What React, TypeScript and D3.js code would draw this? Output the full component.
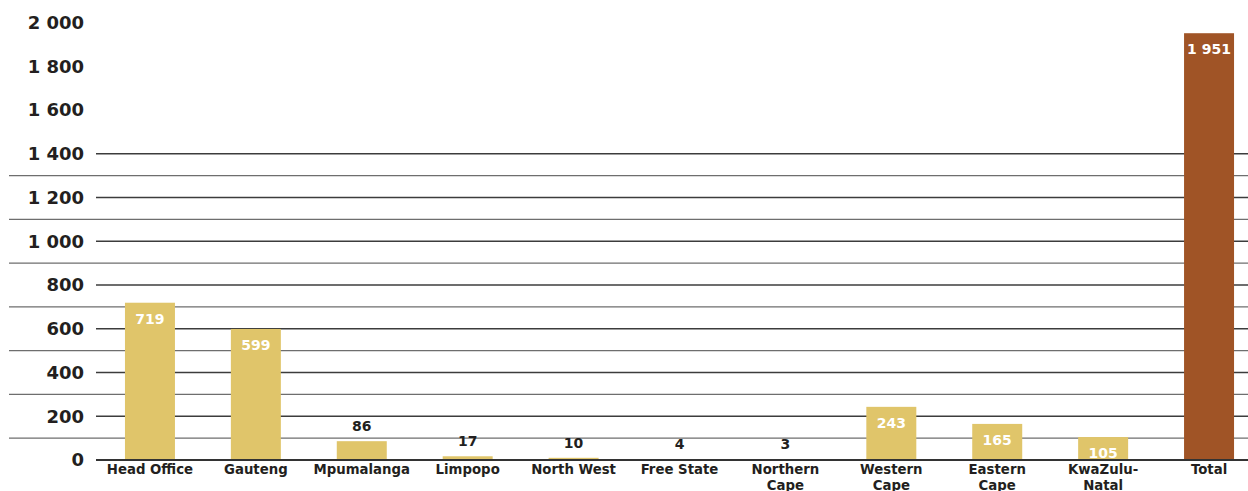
import { useEffect, useRef } from 'react'
import * as d3 from 'd3'

// Staff per office
const categories = [
  'Head Office',
  'Gauteng',
  'Mpumalanga',
  'Limpopo',
  'North West',
  'Free State',
  'Northern Cape',
  'Western Cape',
  'Eastern Cape',
  'KwaZulu-Natal',
  'Total',
]
const categoryLines = [
  ['Head Office'],
  ['Gauteng'],
  ['Mpumalanga'],
  ['Limpopo'],
  ['North West'],
  ['Free State'],
  ['Northern', 'Cape'],
  ['Western', 'Cape'],
  ['Eastern', 'Cape'],
  ['KwaZulu-', 'Natal'],
  ['Total'],
]
const values = [719, 599, 86, 17, 10, 4, 3, 243, 165, 105, 1951]
const yTicks = [0, 200, 400, 600, 800, 1000, 1200, 1400, 1600, 1800, 2000]
const majorGrid = [200, 400, 600, 800, 1000, 1200, 1400]
const minorGrid = [100, 300, 500, 700, 900, 1100, 1300]

const W = 1248
const H = 491
const FONT = "'DejaVu Sans', Verdana, sans-serif"
const GOLD = '#e0c56a'
const BROWN = '#a05426'
const TEXT = '#231f20'

const App = () => {
  const svgRef = useRef<SVGSVGElement | null>(null)

  useEffect(() => {
    if (!svgRef.current) return
    const svg = d3.select(svgRef.current)
    svg.selectAll('*').remove()

    const x = d3.scaleBand<string>().domain(categories).range([97, 1262]).paddingInner(0.528).paddingOuter(0.264)
    const y = d3.scaleLinear().domain([0, 2000]).range([460, 22.5])

    const fmt = (v: number) => d3.format(',')(v).replace(/,/g, ' ')

    // minor grid lines reach to the left edge
    svg
      .append('g')
      .selectAll('line')
      .data(minorGrid)
      .enter()
      .append('line')
      .attr('x1', 9)
      .attr('x2', W)
      .attr('y1', (d) => y(d))
      .attr('y2', (d) => y(d))
      .attr('stroke', '#6e6e6e')
      .attr('stroke-width', 1.3)

    // major grid lines start after the tick labels
    svg
      .append('g')
      .selectAll('line')
      .data(majorGrid)
      .enter()
      .append('line')
      .attr('x1', 96)
      .attr('x2', W)
      .attr('y1', (d) => y(d))
      .attr('y2', (d) => y(d))
      .attr('stroke', '#3c3c3c')
      .attr('stroke-width', 1.3)

    // y tick labels
    svg
      .append('g')
      .selectAll('text')
      .data(yTicks)
      .enter()
      .append('text')
      .attr('x', 84)
      .attr('y', (d) => y(d))
      .attr('dy', '0.36em')
      .attr('text-anchor', 'end')
      .style('font-family', FONT)
      .style('font-size', '18px')
      .style('font-weight', 'bold')
      .style('fill', TEXT)
      .text((d) => fmt(d))

    // bars
    svg
      .append('g')
      .selectAll('rect')
      .data(values)
      .enter()
      .append('rect')
      .attr('x', (d, i) => x(categories[i]) as number)
      .attr('y', (d) => y(d))
      .attr('width', x.bandwidth())
      .attr('height', (d) => y(0) - y(d))
      .attr('fill', (d, i) => (i === categories.length - 1 ? BROWN : GOLD))

    // baseline
    svg
      .append('line')
      .attr('x1', 96)
      .attr('x2', W)
      .attr('y1', y(0))
      .attr('y2', y(0))
      .attr('stroke', '#333')
      .attr('stroke-width', 2)

    // value labels
    svg
      .append('g')
      .selectAll('text')
      .data(values)
      .enter()
      .append('text')
      .attr('x', (d, i) => (x(categories[i]) as number) + x.bandwidth() / 2)
      .attr('y', (d) => (d >= 100 ? y(d) + 16 : y(d) - 15))
      .attr('dy', '0.36em')
      .attr('text-anchor', 'middle')
      .style('font-family', FONT)
      .style('font-size', '14px')
      .style('font-weight', 'bold')
      .style('fill', (d) => (d >= 100 ? '#ffffff' : TEXT))
      .text((d) => fmt(d))

    // category labels
    const cat = svg
      .append('g')
      .selectAll('text')
      .data(categoryLines)
      .enter()
      .append('text')
      .attr('x', (d, i) => (x(categories[i]) as number) + x.bandwidth() / 2)
      .attr('y', 469)
      .attr('text-anchor', 'middle')
      .style('font-family', FONT)
      .style('font-size', '13.3px')
      .style('font-weight', 'bold')
      .style('fill', TEXT)

    cat
      .selectAll('tspan')
      .data((d) => d)
      .enter()
      .append('tspan')
      .attr('x', function () {
        return (this.parentNode as SVGTextElement).getAttribute('x')
      })
      .attr('dy', (d, i) => (i === 0 ? '0.36em' : '16px'))
      .text((d) => d)
  }, [])

  return (
    <svg
      ref={svgRef}
      width={W}
      height={H}
      style={{ position: 'absolute', left: 0, top: 0, background: '#fff' }}
    />
  )
}

export default App
